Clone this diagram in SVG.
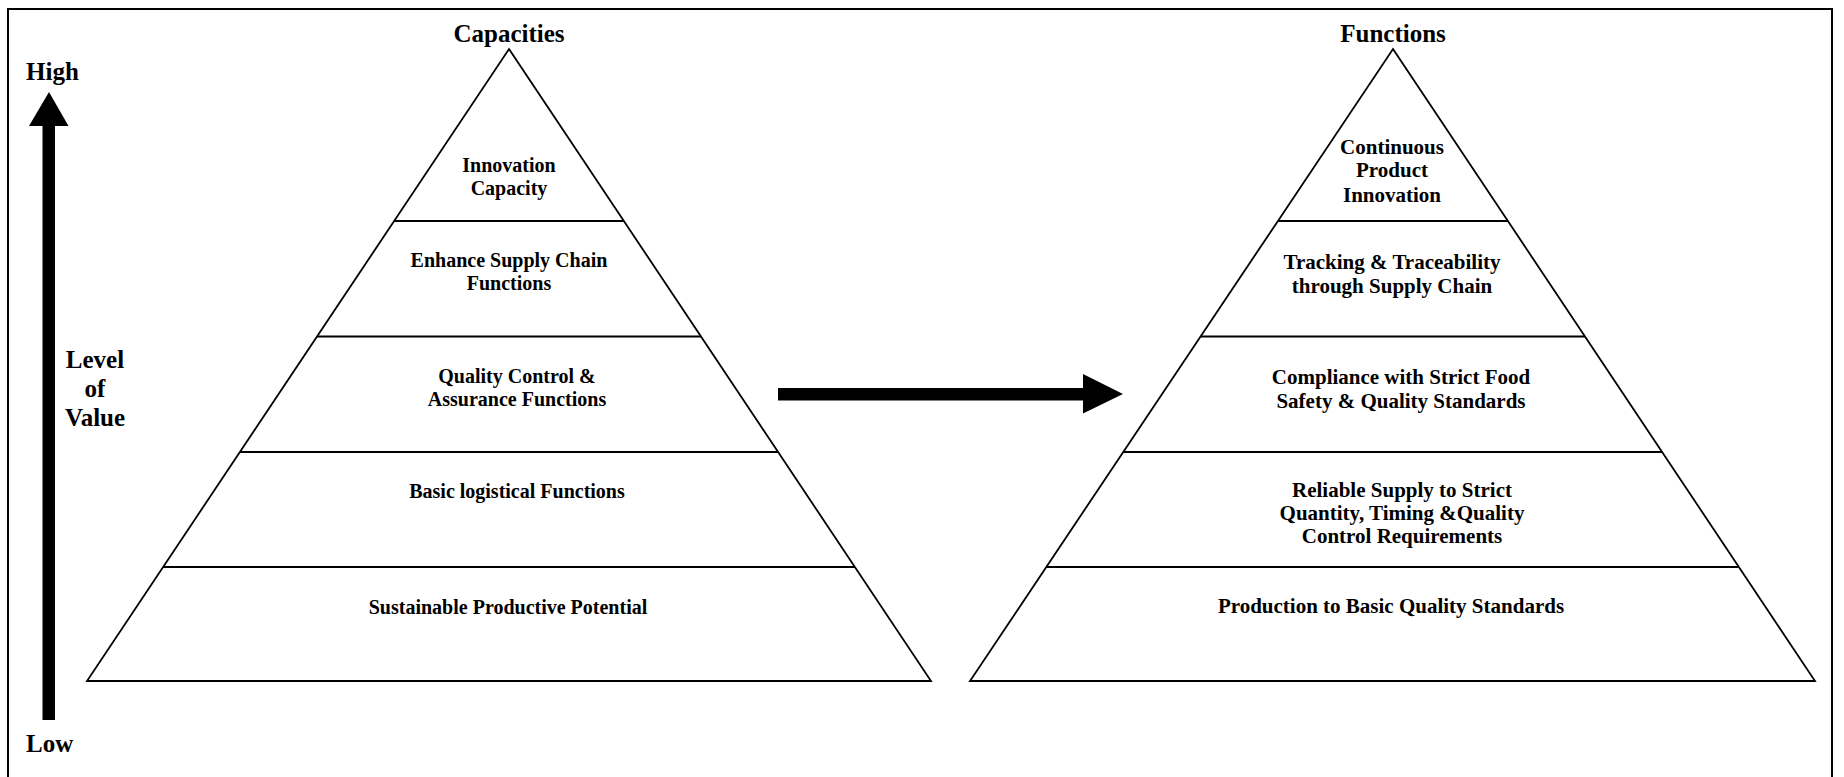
<svg xmlns="http://www.w3.org/2000/svg" width="1844" height="777" viewBox="0 0 1844 777">
<style>
.t{font-family:"Liberation Serif","Times New Roman",serif;font-weight:bold;fill:#000;text-anchor:middle}
.big{font-size:25px}
.lab{font-size:20px}
.labr{font-size:21px}
.pyr{fill:none;stroke:#000;stroke-width:1.8;stroke-linejoin:miter}
.sep{stroke:#000;stroke-width:2}
</style>
<rect x="0" y="0" width="1844" height="777" fill="#fff"/>
<rect x="8" y="9" width="1824" height="800" fill="none" stroke="#000" stroke-width="2"/>

<g id="value-axis">
<rect x="42.5" y="125" width="12.5" height="595" fill="#000"/>
<polygon points="49,92 29,126 68.5,126" fill="#000"/>
<text class="t big" x="26" y="80" text-anchor="start" style="text-anchor:start">High</text>
<text class="t big" x="26" y="752" style="text-anchor:start">Low</text>
<text class="t big" x="95" y="368">Level</text>
<text class="t big" x="95" y="397">of</text>
<text class="t big" x="95" y="426">Value</text>
</g>

<g id="capacities">
<text class="t big" x="509" y="42">Capacities</text>
<polygon class="pyr" points="509,49 931,681 87,681"/>
<line class="sep" x1="394" y1="221" x2="624" y2="221"/>
<line class="sep" x1="317" y1="336.5" x2="701" y2="336.5"/>
<line class="sep" x1="240" y1="452" x2="778" y2="452"/>
<line class="sep" x1="163" y1="567" x2="855" y2="567"/>
<g id="cap-innovation"><text class="t lab" x="509" y="172">Innovation</text><text class="t lab" x="509" y="195">Capacity</text></g>
<g id="cap-supply"><text class="t lab" x="509" y="267">Enhance Supply Chain</text><text class="t lab" x="509" y="290">Functions</text></g>
<g id="cap-quality"><text class="t lab" x="517" y="383">Quality Control &amp;</text><text class="t lab" x="517" y="406">Assurance Functions</text></g>
<g id="cap-logistics"><text class="t lab" x="517" y="498">Basic logistical Functions</text></g>
<g id="cap-productive"><text class="t lab" x="508" y="614">Sustainable Productive Potential</text></g>
</g>

<g id="functions">
<text class="t big" x="1393" y="42">Functions</text>
<polygon class="pyr" points="1393,49 1815,681 970,681"/>
<line class="sep" x1="1278" y1="221" x2="1508" y2="221"/>
<line class="sep" x1="1201" y1="336.5" x2="1585" y2="336.5"/>
<line class="sep" x1="1124" y1="452" x2="1662" y2="452"/>
<line class="sep" x1="1047" y1="567" x2="1739" y2="567"/>
<g id="fn-innovation"><text class="t labr" x="1392" y="154">Continuous</text><text class="t labr" x="1392" y="177">Product</text><text class="t labr" x="1392" y="202">Innovation</text></g>
<g id="fn-tracking"><text class="t labr" x="1392" y="269">Tracking &amp; Traceability</text><text class="t labr" x="1392" y="293">through Supply Chain</text></g>
<g id="fn-compliance"><text class="t labr" x="1401" y="384">Compliance with Strict Food</text><text class="t labr" x="1401" y="408">Safety &amp; Quality Standards</text></g>
<g id="fn-reliable"><text class="t labr" x="1402" y="497">Reliable Supply to Strict</text><text class="t labr" x="1402" y="520">Quantity, Timing &amp;Quality</text><text class="t labr" x="1402" y="543">Control Requirements</text></g>
<g id="fn-production"><text class="t labr" x="1391" y="613">Production to Basic Quality Standards</text></g>
</g>

<g id="connectors">
<rect x="778" y="388" width="306" height="12.5" fill="#000"/>
<polygon points="1083,374 1123,394 1083,413.5" fill="#000"/>
</g>
</svg>
